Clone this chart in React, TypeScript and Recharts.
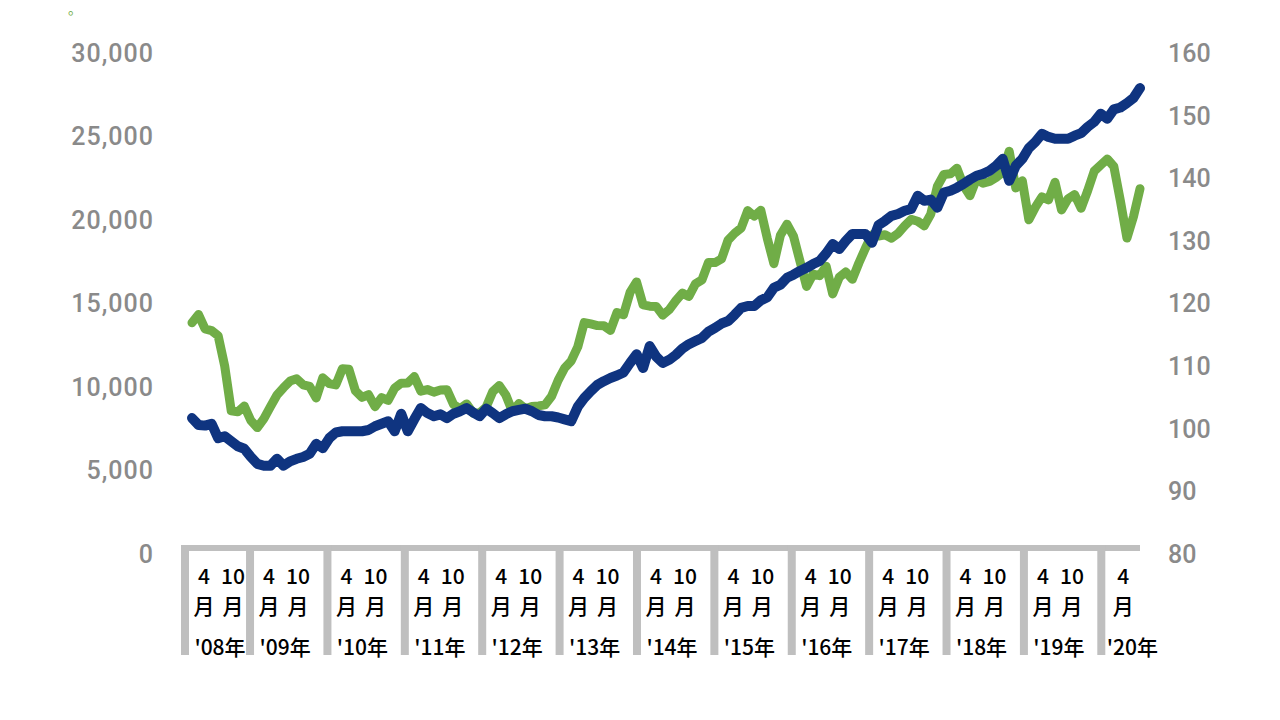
import { LineChart, Line, XAxis, YAxis, ReferenceLine } from "recharts";

// monthly, Apr 2008 - May 2020
const yearLabels = ["'08年", "'09年", "'10年", "'11年", "'12年", "'13年", "'14年", "'15年", "'16年", "'17年", "'18年", "'19年", "'20年"];
const boxYears = [2008.25, 2009, 2010, 2011, 2012, 2013, 2014, 2015, 2016, 2017, 2018, 2019, 2020];
const monthLabels = ["4", "10"];
const lastYearMonthLabels = ["4"];
const leftTicks = [0, 5000, 10000, 15000, 20000, 25000, 30000];
const rightTicks = [80, 90, 100, 110, 120, 130, 140, 150, 160];

// green, left axis
const stockPrice = [
  13850, 14338, 13481, 13376, 13072, 11259, 8577, 8512, 8860,
  7994, 7568, 8109, 8828, 9522, 9958, 10357, 10492, 10133, 10034, 9345, 10546,
  10198, 10126, 11089, 11057, 9768, 9382, 9537, 8824, 9369, 9202, 9937, 10228,
  10237, 10624, 9755, 9849, 9693, 9816, 9833, 8955, 8700, 8988, 8434, 8455,
  8802, 9723, 10083, 9520, 8542, 9006, 8695, 8839, 8870, 8928, 9446, 10395,
  11138, 11559, 12397, 13860, 13774, 13677, 13668, 13388, 14455, 14327, 15661, 16291,
  14914, 14841, 14827, 14304, 14632, 15162, 15620, 15425, 16173, 16413, 17459, 17450,
  17674, 18797, 19206, 19520, 20563, 20235, 20585, 18890, 17388, 19083, 19747, 19033,
  17518, 16026, 16758, 16666, 17234, 15575, 16569, 16887, 16449, 17425, 18308, 19114,
  19041, 19118, 18909, 19196, 19650, 20033, 19925, 19646, 20356, 22011, 22724, 22764,
  23098, 22068, 21454, 22467, 22201, 22304, 22553, 22865, 24120, 21920, 22351, 20014,
  20773, 21385, 21205, 22258, 20601, 21275, 21521, 20704, 21755, 22927, 23293, 23656,
  23205, 21142, 18917, 20193, 21877,
];

// blue, right axis
const indexValue = [
  101.7, 100.6, 100.5, 100.8, 98.5, 98.8, 98.0, 97.2, 96.8,
  95.5, 94.4, 94.1, 94.1, 95.2, 94.1, 94.8, 95.2, 95.5, 96.0, 97.6, 96.9,
  98.5, 99.4, 99.6, 99.6, 99.6, 99.6, 99.8, 100.4, 100.8, 101.2, 99.6, 102.4,
  99.6, 101.5, 103.3, 102.5, 102.0, 102.3, 101.7, 102.4, 102.8, 103.3, 102.6, 102.0,
  103.2, 102.5, 101.7, 102.3, 102.8, 103.0, 103.2, 102.8, 102.2, 102.0, 102.0, 101.8,
  101.5, 101.2, 103.5, 104.9, 106.0, 107.0, 107.6, 108.1, 108.5, 109.0, 110.5, 111.9,
  109.7, 113.2, 111.5, 110.5, 111.0, 111.8, 112.8, 113.5, 114.0, 114.5, 115.5, 116.1,
  116.8, 117.2, 118.2, 119.3, 119.6, 119.6, 120.5, 121.0, 122.5, 123.0, 124.1, 124.6,
  125.2, 125.7, 126.3, 126.8, 128.0, 129.5, 128.7, 130.0, 131.1, 131.1, 131.1, 129.7,
  132.5, 133.2, 134.0, 134.3, 134.8, 135.1, 137.2, 136.4, 136.6, 135.3, 137.7, 138.0,
  138.5, 139.1, 139.8, 140.4, 140.7, 141.2, 142.0, 143.1, 139.6, 142.0, 143.1, 144.8,
  145.8, 147.1, 146.6, 146.3, 146.3, 146.3, 146.8, 147.2, 148.2, 149.0, 150.3, 149.5,
  151.0, 151.3, 152.0, 152.8, 154.4,
];

const data = stockPrice.map((v, i) => ({ i, stock: v, index: indexValue[i] }));

// the year boxes under the plot run on their own time scale: Apr 2008 .. mid 2020
const lastIdx = stockPrice.length - 1;
const boxTicks = boxYears.map((y) => ((y - boxYears[0]) * lastIdx) / (2020.5 - boxYears[0]));

const GRAY = "#bfbfbf";
const labelFont = { fontFamily: "'Noto Sans CJK JP', 'Noto Sans', sans-serif", fontSize: 21, fontWeight: 500, fill: "#000" };
const axisFont = { fontFamily: "Roboto, sans-serif", fontSize: 25, fontWeight: 500, fill: "#8a8a8a" };

function YearBox(props: any) {
  const { x, y, index } = props;
  const k = index;
  const s = k === 0 ? x - 7 : x;
  const last = k === yearLabels.length - 1;
  const months = last ? lastYearMonthLabels : monthLabels;
  const offsets = last ? [22] : [19, 48];
  return (
    <g>
      <rect x={s - 4} y={y - 9} width={8} height={110} fill={GRAY} />
      {k === 0 && <rect x={s - 4} y={y - 9} width={x - s + 6} height={6} fill={GRAY} />}
      {months.map((m, j) => (
        <g key={m}>
          <text x={s + offsets[j]} y={y + 30} textAnchor="middle" {...labelFont}>{m}</text>
          <text x={s + offsets[j]} y={y + 60} textAnchor="middle" {...labelFont}>月</text>
        </g>
      ))}
      <text x={s + (last ? 31 : 35)} y={y + 101} textAnchor="middle" {...labelFont}>
        {yearLabels[k]}
      </text>
    </g>
  );
}

export default function App() {
  return (
    <div style={{ position: "absolute", left: 0, top: 0, width: 1280, height: 720, background: "#fff" }}>
      <div style={{ position: "absolute", left: 68, top: -2, color: "#70ad47", fontSize: 14, fontFamily: "'Noto Sans CJK JP'" }}>
        。
      </div>
      <LineChart width={1280} height={720} data={data} margin={{ top: 53, right: 0, bottom: 0, left: 0 }}>
        <XAxis
          dataKey="i"
          type="number"
          domain={[0, lastIdx]}
          ticks={boxTicks}
          interval={0}
          axisLine={false}
          tickLine={false}
          tickSize={0}
          tickMargin={0}
          height={166}
          tick={<YearBox />}
        />
        <YAxis
          yAxisId="left"
          orientation="left"
          width={192}
          domain={[0, 30000]}
          ticks={leftTicks}
          axisLine={false}
          tickLine={false}
          tickSize={0}
          tickMargin={38}
          tickFormatter={(v: number) => v.toLocaleString("en-US")}
          tick={{ ...axisFont, letterSpacing: 1 }}
        />
        <YAxis
          yAxisId="right"
          orientation="right"
          width={140}
          domain={[80, 160]}
          ticks={rightTicks}
          axisLine={false}
          tickLine={false}
          tickSize={0}
          tickMargin={28}
          tick={axisFont}
        />
        <ReferenceLine yAxisId="left" y={360} stroke={GRAY} strokeWidth={6} />
        <Line
          yAxisId="left"
          dataKey="stock"
          stroke="#70ad47"
          strokeWidth={9}
          dot={false}
          strokeLinejoin="round"
          strokeLinecap="round"
          isAnimationActive={false}
        />
        <Line
          yAxisId="right"
          dataKey="index"
          stroke="#0f3480"
          strokeWidth={10}
          dot={false}
          strokeLinejoin="round"
          strokeLinecap="round"
          isAnimationActive={false}
        />
      </LineChart>
    </div>
  );
}
